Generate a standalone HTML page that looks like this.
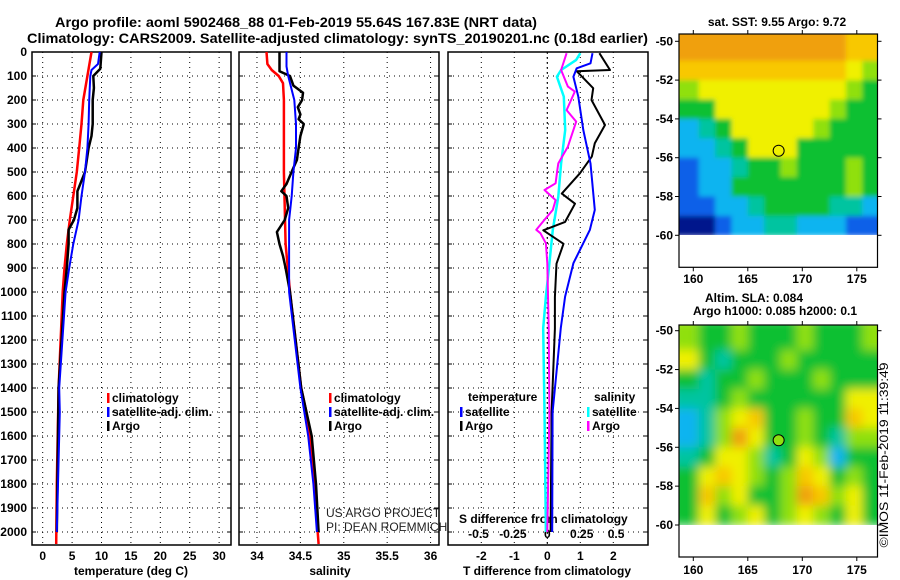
<!DOCTYPE html>
<html><head><meta charset="utf-8"><title>Argo profile</title>
<style>
html,body{margin:0;padding:0;background:#fff;}
svg{display:block;font-family:"Liberation Sans",Arial,sans-serif;}
.b{font-weight:bold;font-size:12px;}
</style></head>
<body>
<svg id="chart" width="900" height="580" viewBox="0 0 900 580" xmlns="http://www.w3.org/2000/svg">
<defs>
<filter id="blurA" x="-5%" y="-5%" width="110%" height="110%"><feGaussianBlur stdDeviation="2.5"/></filter>
<filter id="blurB" x="-5%" y="-5%" width="110%" height="110%"><feGaussianBlur stdDeviation="5"/></filter>
<clipPath id="clipTop"><rect x="679" y="34" width="198" height="201"/></clipPath>
<clipPath id="clipBot"><rect x="679" y="325" width="198" height="200"/></clipPath>
</defs>
<text x="55" y="27" font-size="14" font-weight="bold" textLength="482" lengthAdjust="spacingAndGlyphs">Argo profile: aoml 5902468_88 01-Feb-2019 55.64S 167.83E (NRT data)</text>
<text x="27" y="43" font-size="14" font-weight="bold" textLength="621" lengthAdjust="spacingAndGlyphs">Climatology: CARS2009. Satellite-adjusted climatology: synTS_20190201.nc (0.18d earlier)</text>
<g id="g"></g>
</svg>
<script>
// ---------- data ----------
const depthTicks = [0,100,200,300,400,500,600,700,800,900,1000,1100,1200,1300,1400,1500,1600,1700,1800,1900,2000];
const tempTicks = [0,5,10,15,20,25,30];
const salTicks = [34,34.5,35,35.5,36];
const salTickLabels = ["34","34.5","35","35.5","36"];
const tdiffTicks = [-2,-1,0,1,2];
const sdiffTicks = [-0.5,-0.25,0,0.25,0.5];
const sdiffTickLabels = ["-0.5","-0.25","0","0.25","0.5"];

const tClimDepth = [0,100,200,300,400,500,600,700,800,900,1000,1400,1800,2050];
const tClim      = [8.3,7.6,6.9,6.6,6.2,5.8,5.2,4.6,4.1,3.7,3.4,2.7,2.4,2.3];
const tSatDepth  = [0,50,75,100,200,300,400,500,600,700,800,900,1000,1400,1500,1800,2000];
const tSat       = [9.7,9.4,8.3,8.1,7.9,7.8,7.6,7.2,6.6,6.1,5.2,4.5,3.9,2.8,2.9,2.6,2.4];
const tArgoDepth = [0,70,100,150,200,300,350,400,500,580,650,700,740,800,900,1000,1400,1800,2000];
const tArgo      = [10.0,9.8,8.6,8.7,8.5,8.5,8.3,7.8,7.2,5.9,5.9,5.3,4.4,4.4,4.1,3.7,2.7,2.5,2.4];

const sClimDepth = [0,50,75,100,130,200,500,800,1000,1400,1500,1600,1800,2000,2050];
const sClim      = [34.11,34.12,34.17,34.25,34.30,34.31,34.31,34.33,34.38,34.51,34.57,34.61,34.67,34.70,34.71];
const sSatDepth  = [0,60,100,200,300,400,500,600,700,800,1000,1400,1600,1800,2000];
const sSat       = [34.34,34.34,34.36,34.43,34.45,34.45,34.42,34.40,34.37,34.37,34.37,34.50,34.59,34.65,34.69];
const sArgoDepth = [0,80,100,140,170,200,230,260,280,300,350,400,450,490,550,580,600,650,700,750,800,850,900,1000,1400,1600,1800,2000];
const sArgo      = [34.26,34.26,34.38,34.42,34.53,34.52,34.47,34.50,34.48,34.54,34.50,34.48,34.46,34.41,34.34,34.28,34.34,34.36,34.32,34.23,34.26,34.30,34.33,34.38,34.51,34.63,34.68,34.71];

const dtArgoDepth = [5,75,80,151,200,304,380,436,505,590,632,708,743,799,882,1021,1153,1500,2000];
const dtArgo      = [1.58,1.9,0.89,1.39,1.34,1.75,1.44,1.35,0.99,0.44,0.84,0.54,-0.12,0.49,0.28,0.23,0.23,0.13,0.1];
const dtSatDepth  = [5,47,68,103,186,325,464,658,741,880,1019,1150,1500,2000];
const dtSat       = [1.37,1.31,0.89,0.79,0.94,1.09,1.31,1.44,1.29,0.79,0.54,0.41,0.16,0.15];
const dsArgoDepth = [5,75,144,165,242,290,394,464,505,547,575,617,658,706,741,755,797,880,1150,1500,2000];
const dsArgo      = [0.14,0.10,0.15,0.20,0.14,0.21,0.15,0.08,0.07,0.06,-0.02,0.06,0.04,-0.03,-0.08,-0.05,-0.01,0.0,0.01,0.015,0.0];
const dsSatDepth  = [5,33,75,103,186,325,464,603,741,880,1020,1150,1500,2000];
const dsSat       = [0.24,0.21,0.10,0.07,0.12,0.13,0.10,0.08,0.04,0.015,-0.01,-0.03,-0.02,-0.01];

const mapLonTicks = [160,165,170,175];
const mapLatTicks = [-50,-52,-54,-56,-58,-60];
const sstGrid = [
 [8,8,8,8,8,8,8,8,8,8,7,7],
 [7,7,7,7,7,7,7,7,7,7,6,5],
 [5,6,6,6,6,6,6,6,6,6,5,4],
 [4,4,6,6,6,6,6,6,6,5,4,4],
 [2,3,4,6,6,6,6,6,5,4,4,4],
 [2,2,3,4,6,6,6,4,4,4,4,4],
 [1,2,2,3,4,4,5,4,4,4,5,4],
 [1,2,2,4,4,4,4,4,4,4,5,4],
 [1,1,2,2,3,4,4,4,4,3,3,2],
 [0,0,1,2,2,3,3,2,2,2,1,1]];
const slaGrid = [
 [5,4,4,5,4,4,4,5,4,4,4,5],
 [6,4,3,4,4,4,5,4,4,4,4,4],
 [4,3,4,4,5,4,4,4,5,4,4,4],
 [3,3,4,5,4,4,4,4,4,4,6,6],
 [2,3,5,6,7,4,4,5,4,4,7,6],
 [2,3,5,8,6,4,4,5,4,3,5,5],
 [3,4,6,6,5,3,4,6,5,2,4,4],
 [4,6,7,6,5,4,5,7,6,4,5,4],
 [4,7,5,6,4,4,5,8,7,5,6,4],
 [4,6,4,5,6,4,5,6,5,4,6,4]];
const argoLon = 167.83, argoLat = -55.64;

// ---------- drawing ----------
const NS = "http://www.w3.org/2000/svg";
const G = document.getElementById('g');
function mk(tag, attrs, parent){const e=document.createElementNS(NS,tag);for(const k in attrs)e.setAttribute(k,attrs[k]);(parent||G).appendChild(e);return e;}
function txt(x,y,s,cls,anchor,extra){const e=mk('text',Object.assign({x:x,y:y,'text-anchor':anchor||'start','dominant-baseline':'central'},extra||{}));if(cls)e.setAttribute('class',cls);e.textContent=s;return e;}

const y = d => 52 + 0.24*d;
const Y0 = 52, Y1 = 545;
const panels = [
 {x0:32,x1:231,v0:-1.82,v1:32.02},
 {x0:239,x1:439,v0:33.793,v1:36.097},
 {x0:448,x1:648,v0:-3.009,v1:3.052}];
const sx = (p,v) => p.x0 + (v-p.v0)/(p.v1-p.v0)*(p.x1-p.x0);
const sdx = v => 547.3 + 137.6*v;

function frame(p,name){
  const r=mk('rect',{x:p.x0,y:Y0,width:p.x1-p.x0,height:Y1-Y0,fill:'none',stroke:'#000','stroke-width':1.5});
  
  
  depthTicks.forEach(d=>{ if(d>0){const l=mk('line',{x1:p.x0,x2:p.x1,y1:y(d),y2:y(d),stroke:'#000','stroke-width':1,'stroke-dasharray':'1,4'});
    
    }
    mk('line',{x1:p.x0,x2:p.x0+4,y1:y(d),y2:y(d),stroke:'#000'}); mk('line',{x1:p.x1-4,x2:p.x1,y1:y(d),y2:y(d),stroke:'#000'}); });
}
function vgrid(p,vals,xf){ vals.forEach(v=>{const X=xf(v);const l=mk('line',{x1:X,x2:X,y1:Y0,y2:Y1,stroke:'#000','stroke-width':1,'stroke-dasharray':'1,4'});
  
  }); }
function series(depths,vals,xf,color,name,w){
  const pts=depths.map((d,i)=>xf(vals[i]).toFixed(1)+','+y(d).toFixed(1)).join(' ');
  const e=mk('polyline',{points:pts,fill:'none',stroke:color,'stroke-width':w||2,'stroke-linejoin':'round'});
  
  
}
function legendEntry(x,yy,color,label,name){
  const g=mk('g',{});
  
  
  mk('rect',{x:x,y:yy-5,width:2.5,height:10,fill:color},g);
  const t=txt(x+5,yy,label,'b','start');g.appendChild(t);
}

// panel 1
const p1=panels[0];
vgrid(p1,tempTicks,v=>sx(p1,v));
frame(p1,'temperature-panel');
depthTicks.forEach(d=>{const t=txt(27,y(d),String(d),'b','end');
  
  });
tempTicks.forEach(v=>{const t=txt(sx(p1,v),556,String(v),'b','middle');
  
  });
let at=txt(131,571,'temperature (deg C)','b','middle');


series(tClimDepth,tClim,v=>sx(p1,v),'#f00','temperature-climatology-line',2.5);
series(tArgoDepth,tArgo,v=>sx(p1,v),'#000','temperature-argo-line',2.5);
series(tSatDepth,tSat,v=>sx(p1,v),'#00f','temperature-satellite-line',2);
legendEntry(107,398,'#f00','climatology','legend-climatology');
legendEntry(107,412,'#00f','satellite-adj. clim.','legend-satellite');
legendEntry(107,426,'#000','Argo','legend-argo');

// panel 2
const p2=panels[1];
vgrid(p2,salTicks,v=>sx(p2,v));
frame(p2,'salinity-panel');
salTicks.forEach((v,i)=>{const t=txt(sx(p2,v),556,salTickLabels[i],'b','middle');
  
  });
at=txt(330,571,'salinity','b','middle');


series(sClimDepth,sClim,v=>sx(p2,v),'#f00','salinity-climatology-line',2.5);
series(sArgoDepth,sArgo,v=>sx(p2,v),'#000','salinity-argo-line',2.5);
series(sSatDepth,sSat,v=>sx(p2,v),'#00f','salinity-satellite-line',2);
legendEntry(329,398,'#f00','climatology','legend-climatology-2');
legendEntry(329,412,'#00f','satellite-adj. clim.','legend-satellite-2');
legendEntry(329,426,'#000','Argo','legend-argo-2');
let cr=txt(326,513,'US ARGO PROJECT',null,'start',{'font-size':'12','fill':'#222'});


cr=txt(326,527,'PI: DEAN ROEMMICH',null,'start',{'font-size':'12','fill':'#222'});



// panel 3
const p3=panels[2];
vgrid(p3,tdiffTicks,v=>sx(p3,v));
frame(p3,'difference-panel');
tdiffTicks.forEach(v=>{const t=txt(sx(p3,v),556,String(v),'b','middle');
  
  });
sdiffTicks.forEach((v,i)=>{const t=txt(sdx(v),534,sdiffTickLabels[i],'b','middle');
  
  });
at=txt(547,571,'T difference from climatology','b','middle');


at=txt(459,519,'S difference from climatology','b','start');


let zl=mk('line',{x1:sdx(0),x2:sdx(0),y1:Y0,y2:Y1,stroke:'#000','stroke-width':1,'stroke-dasharray':'2,3'});


series(dsSatDepth,dsSat,sdx,'#0ff','s-diff-satellite-line',2.5);
series(dsArgoDepth,dsArgo,sdx,'#f0f','s-diff-argo-line',2);
series(dtArgoDepth,dtArgo,v=>sx(p3,v),'#000','t-diff-argo-line',2);
series(dtSatDepth,dtSat,v=>sx(p3,v),'#00f','t-diff-satellite-line',2);
at=txt(468,397,'temperature','b','start');


at=txt(594,397,'salinity','b','start');


legendEntry(460,412,'#00f','satellite','legend-t-satellite');
legendEntry(460,426,'#000','Argo','legend-t-argo');
legendEntry(587,412,'#0ff','satellite','legend-s-satellite');
legendEntry(587,426,'#f0f','Argo','legend-s-argo');

// maps
const cmap=['#00148c','#1060e8','#10b4f0','#00c4a0','#10c030','#90e010','#f0f000','#f8c800','#f0a010','#c04010'];
function drawMap(grid,top,latTop,latBot,clip,filt,name,circleFill,xlabY){
  const mx0=679,mx1=877.5, lonA=160, lonAx=693.3, lonPx=10.9;
  const lonX = lon => lonAx + (lon-lonA)*lonPx;
  const latY = lat => latTop + (-50-lat)*(latBot-latTop)/10;
  const g=mk('g',{'clip-path':'url(#'+clip+')'});
  
  
  const inner=mk('g',{filter:'url(#'+filt+')'},g);
  const nr=grid.length,nc=grid[0].length;
  const lonW=18/nc;
  grid.forEach((row,r)=>row.forEach((v,c)=>{
    const xa=lonX(159+c*lonW), xb=lonX(159+(c+1)*lonW);
    const ya=latY(-50-r*(10/nr)), yb=latY(-50-(r+1)*(10/nr));
    const pad=(r===0?-12:0);
    const cell=mk('rect',{x:(c===0?xa-12:xa),y:ya+pad,width:(xb-xa)+(c===0||c===nc-1?12:0)+0.6,height:(yb-ya)-pad+0.6,fill:cmap[v]},inner);
    
    
  }));
  const fr=mk('rect',{x:mx0,y:top,width:mx1-mx0,height:(latBot+32)-top,fill:'none',stroke:'#000','stroke-width':1.2});
  
  
  mapLatTicks.forEach(l=>{const Yl=latY(l);
    mk('line',{x1:mx0-4,x2:mx0,y1:Yl,y2:Yl,stroke:'#000'});mk('line',{x1:mx1,x2:mx1+4,y1:Yl,y2:Yl,stroke:'#000'});
    const t=txt(673,Yl,String(l),'b','end');
    
    });
  mapLonTicks.forEach(l=>{const Xl=lonX(l);
    mk('line',{x1:Xl,x2:Xl,y1:top-4,y2:top,stroke:'#000'});mk('line',{x1:Xl,x2:Xl,y1:latBot+32,y2:latBot+36,stroke:'#000'});
    const t=txt(Xl,xlabY,String(l),'b','middle');
    
    });
  const c=mk('circle',{cx:lonX(argoLon),cy:latY(argoLat),r:5.5,fill:circleFill,stroke:'#000','stroke-width':1});
  
  
}
drawMap(sstGrid,34,41.3,235.3,'clipTop','blurA','sst-map','none',279);
drawMap(slaGrid,325,330.7,525,'clipBot','blurB','sla-map','#90e010',570);
at=txt(777,22,'sat. SST: 9.55 Argo: 9.72','b','middle');


at=txt(754,298,'Altim. SLA: 0.084','b','middle');


at=txt(775,311,'Argo h1000: 0.085 h2000: 0.1','b','middle');


at=mk('text',{x:0,y:0,'font-size':'12','text-anchor':'middle','dominant-baseline':'central',transform:'translate(884,455) rotate(-90)',textLength:'185',lengthAdjust:'spacingAndGlyphs'});
at.textContent='©IMOS 11-Feb-2019 11:39:49';


</script>
</body></html>
